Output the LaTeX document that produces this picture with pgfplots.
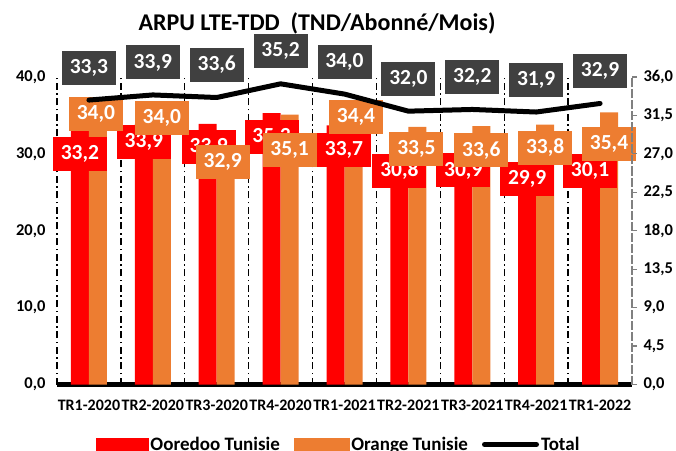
\documentclass[border=0pt]{standalone}
\usepackage{fontspec}
\setmainfont{Carlito}
\usepackage{pgfplots}
\usepackage{pgfplotstable}
\pgfplotsset{compat=1.18}

\definecolor{ooredoo}{HTML}{FF0000}
\definecolor{orangetn}{HTML}{ED7D31}
\definecolor{lblgray}{HTML}{404040}

% ARPU per quarter; dx/dy = label offsets (pt) from the bar top / line point
\pgfplotstableread{
x ooredoo dxr dyr   orange dxo  dyo total
0 33.2    0   -24.5 34.0   -2   9   33.3
1 33.9    0   -18   34.0   0    5   33.9
2 33.9    1   -23.5 32.9   -3   -30 33.6
3 35.3    0   -24   35.1   0    -35 35.2
4 33.7    8.5 -24.5 34.4   2.5  3   34.0
5 30.8    0   -23   33.5   -1   -22 32.0
6 30.9    0   -23.5 33.6   0    -24 32.2
7 29.9    0   -24.5 33.8   0    -23 31.9
8 30.1    -1  -18   35.4   0    -32 32.9
}\arpu

\tikzset{lbl/.style={inner sep=0pt, minimum width=54pt, minimum height=34pt,
  text=white, font=\bfseries\fontsize{21.5}{21.5}\selectfont, anchor=center}}
\pgfplotsset{
  frame/.style={at={(57pt,65.5pt)}, anchor=south west, scale only axis,
    width=575pt, height=307.5pt, xmin=-0.5, xmax=8.5, clip=false,
    /pgf/number format/assume math mode=true},
  numfmt/.style={/pgf/number format/fixed, /pgf/number format/fixed zerofill,
    /pgf/number format/precision=1, /pgf/number format/use comma},
}

\begin{document}
\begin{tikzpicture}
\useasboundingbox (0,0) rectangle (676pt,450pt);

\node[font=\bfseries\fontsize{24}{24}\selectfont] at (317pt,427pt)
  {ARPU LTE-TDD\ \ (TND/Abonné/Mois)};

\begin{axis}[frame,
  ymin=0, ymax=40,
  axis x line*=bottom, axis y line*=left,
  x axis line style={line width=4.5pt, -},
  y axis line style={draw=none},
  xtick={0,1,2,3,4,5,6,7,8},
  xticklabels={TR1-2020,TR2-2020,TR3-2020,TR4-2020,TR1-2021,TR2-2021,TR3-2021,TR4-2021,TR1-2022},
  xtick style={draw=none},
  xticklabel style={font=\bfseries\fontsize{16}{16}\selectfont, anchor=center, yshift=-20.5pt},
  extra x ticks={-0.5,0.5,1.5,2.5,3.5,4.5,5.5,6.5,7.5},
  extra x tick labels={},
  extra x tick style={grid=major,
    major grid style={black, line width=1.3pt, dash pattern=on 7pt off 3.5pt on 1.5pt off 3.5pt},
    tick style={draw=black, line width=3pt}, tick align=outside, major tick length=5pt},
  ytick={0,10,20,30,40},
  ytick style={draw=none},
  yticklabel style={font=\bfseries\fontsize{16.5}{16.5}\selectfont, numfmt, anchor=east, xshift=-8pt},
]
\addplot[ybar, bar width=18pt, bar shift=-9pt, fill=ooredoo, draw=none]
  table[x=x, y=ooredoo] {\arpu};
\addplot[ybar, bar width=18pt, bar shift=9pt, fill=orangetn, draw=none]
  table[x=x, y=orange] {\arpu};

% data labels, drawn after both bar series
\addplot[draw=none, mark=none, forget plot,
  visualization depends on={\thisrow{dxr} \as \ldx},
  visualization depends on={\thisrow{dyr} \as \ldy},
  nodes near coords={\pgfmathprintnumber[fixed,fixed zerofill,precision=1,use comma,assume math mode=true]{\pgfplotspointmeta}},
  nodes near coords align=center,
  nodes near coords style={lbl, fill=ooredoo, xshift=-9pt+\ldx*1pt, yshift=\ldy*1pt},
] table[x=x, y=ooredoo] {\arpu};
\addplot[draw=none, mark=none, forget plot,
  visualization depends on={\thisrow{dxo} \as \ldx},
  visualization depends on={\thisrow{dyo} \as \ldy},
  nodes near coords={\pgfmathprintnumber[fixed,fixed zerofill,precision=1,use comma,assume math mode=true]{\pgfplotspointmeta}},
  nodes near coords align=center,
  nodes near coords style={lbl, fill=orangetn, xshift=9pt+\ldx*1pt, yshift=\ldy*1pt},
] table[x=x, y=orange] {\arpu};
\end{axis}

\begin{axis}[frame,
  ymin=0, ymax=36,
  axis x line=none, axis y line*=right,
  y axis line style={draw=gray, line width=1.5pt, dash pattern=on 9pt off 2pt, -},
  ytick={0,4.5,9,13.5,18,22.5,27,31.5,36},
  ytick style={draw=gray, line width=1.2pt},
  tick align=outside, major tick length=5pt,
  yticklabel style={font=\bfseries\fontsize{16.5}{16.5}\selectfont, numfmt, anchor=west, xshift=3pt},
  legend style={at={(0.49,-0.195)}, anchor=center, draw=none, fill=none,
    legend columns=3, font=\bfseries\fontsize{19}{19}\selectfont,
    /tikz/every even column/.append style={column sep=12pt}},
]
\addlegendimage{legend image code/.code={\fill[ooredoo] (0pt,-6.5pt) rectangle (52pt,6.5pt);}}
\addlegendentry{Ooredoo Tunisie}
\addlegendimage{legend image code/.code={\fill[orangetn] (0pt,-6.5pt) rectangle (55pt,6.5pt);}}
\addlegendentry{Orange Tunisie}
\addplot[black, line width=5pt, line join=round, line cap=round, mark=none,
  legend image code/.code={\draw[black, line width=5pt, line cap=round] (0pt,0pt) -- (52pt,0pt);},
  nodes near coords={\pgfmathprintnumber[fixed,fixed zerofill,precision=1,use comma,assume math mode=true]{\pgfplotspointmeta}},
  nodes near coords align=center,
  nodes near coords style={lbl, fill=lblgray, yshift=32.5pt},
] table[x=x, y=total] {\arpu};
\addlegendentry{Total}
\end{axis}
\end{tikzpicture}
\end{document}
